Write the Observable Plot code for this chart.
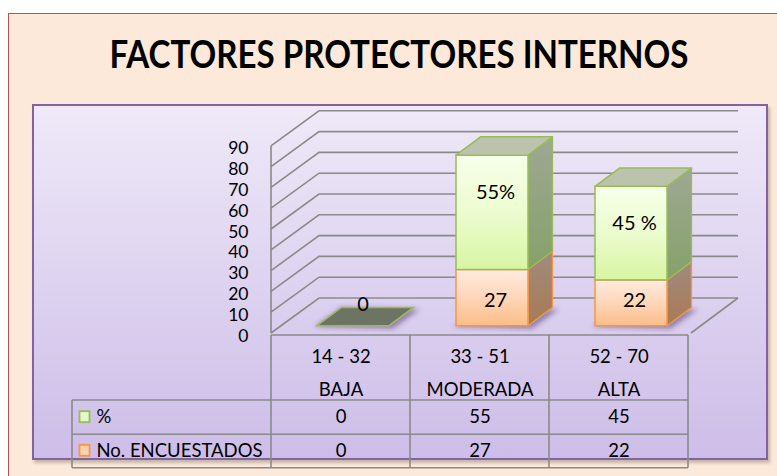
<!DOCTYPE html>
<html>
<head>
<meta charset="utf-8">
<script src="https://cdn.jsdelivr.net/npm/d3@7"></script>
<script src="https://cdn.jsdelivr.net/npm/@observablehq/plot@0.6"></script>
<style>
  html, body { margin: 0; padding: 0; background: #fff; }
  #wrap { position: relative; width: 777px; height: 476px; overflow: hidden; background: #fff; }
  #outer { position: absolute; left: 8px; top: 13px; width: 820px; height: 520px;
           background: #fde9d9; border: 1.5px solid #c0504d; }
  #inner { position: absolute; left: 32px; top: 103.5px; width: 732px; height: 352.5px;
           background: linear-gradient(#efe9f8, #cdbde8); border: 2px solid #8064a2;
           box-shadow: 2px 3px 3px rgba(0,0,0,0.22); }
  #chart { position: absolute; left: 0; top: 0; }
</style>
</head>
<body>
<div id="wrap">
  <div id="outer"></div>
  <div id="inner"></div>
  <div id="chart"></div>
</div>
<script>
// ---- data ----
const title = "FACTORES PROTECTORES INTERNOS";
const categories = ["14 - 32", "33 - 51", "52 - 70"];
const levels = ["BAJA", "MODERADA", "ALTA"];
const encuestados = [0, 27, 22];          // No. ENCUESTADOS
const porcentaje = [0, 55, 45];           // %
const pctLabels = ["0", "55%", "45 %"];
const seriesNames = ["%", "No. ENCUESTADOS"];
const yTicks = [0, 10, 20, 30, 40, 50, 60, 70, 80, 90];

const rows = categories.map((c, i) => ({
  cat: c, level: levels[i], n: encuestados[i], p: porcentaje[i],
  total: encuestados[i] + porcentaje[i], pctLabel: pctLabels[i]
}));

// ---- styling constants ----
const FONT = "Lato, 'Open Sans', sans-serif";
const gridColor = "#8a8a8a";
const tableColor = "#8a8a8a";
const wallDX = 48, wallDY = -35;      // depth of the back wall
const barOffX = 12.5, barOffY = -7.3; // bar front plane offset
const barDX = 24.5, barDY = -18.3;    // bar depth
const barW = 72;
const tableFont = 18.5;

function renderMark(draw) {
  return function (index, scales) {
    let s = scales;
    if (!s || typeof s.x !== "function") s = index;
    const g = d3.create("svg:g");
    draw(g, s);
    return g.node();
  };
}
function bandInfo(xs) {
  return xs.bandwidth ? xs.bandwidth() : (xs(categories[1]) - xs(categories[0]));
}
const poly = pts => pts.map(p => p.join(",")).join(" ");

// gradients
const defsMark = renderMark((g) => {
  const defs = g.append("defs");
  const lg = (id, stops) => {
    const l = defs.append("linearGradient").attr("id", id)
      .attr("x1", 0).attr("y1", 0).attr("x2", 0).attr("y2", 1);
    stops.forEach(([o, c]) => l.append("stop").attr("offset", o).attr("stop-color", c));
  };
  lg("gFront", [[0, "#f7ffea"], [0.5, "#ecfccf"], [1, "#d7f5a2"]]);
  lg("gSide", [[0, "#9ea893"], [1, "#86a169"]]);
  lg("oFront", [[0, "#ffebe0"], [0.5, "#fed6b8"], [1, "#fbbd89"]]);
  lg("oSide", [[0, "#a08b80"], [1, "#a97a52"]]);
  const f = defs.append("filter").attr("id", "blur").attr("x", "-50%").attr("y", "-50%")
    .attr("width", "200%").attr("height", "200%");
  f.append("feGaussianBlur").attr("stdDeviation", 2.5);
});

// 3D walls and floor
const wallsMark = renderMark((g, s) => {
  const xs = s.x, ys = s.y, bw = bandInfo(xs);
  const x0 = xs(categories[0]);
  const xEnd = xs(categories[categories.length - 1]) + bw;
  yTicks.forEach(t => {
    const y = ys(t);
    g.append("path")
      .attr("d", `M${x0},${y}L${x0 + wallDX},${y + wallDY}L${xEnd + wallDX + 2},${y + wallDY}`)
      .attr("fill", "none").attr("stroke", gridColor).attr("stroke-width", 1.6);
  });
  g.append("line").attr("x1", x0).attr("x2", x0)
    .attr("y1", ys(0)).attr("y2", ys(yTicks[yTicks.length - 1]))
    .attr("stroke", gridColor).attr("stroke-width", 1.6);
  g.append("line").attr("x1", xEnd + wallDX + 2).attr("y1", ys(0) + wallDY)
    .attr("x2", xEnd + 3).attr("y2", ys(0))
    .attr("stroke", gridColor).attr("stroke-width", 1.6);
});

// 3D stacked bars
const barsMark = renderMark((g, s) => {
  const xs = s.x, ys = s.y, bw = bandInfo(xs);
  rows.forEach(r => {
    const cx = xs(r.cat) + bw / 2 + barOffX;
    const x0 = cx - barW / 2, x1 = cx + barW / 2;
    const yb = ys(0) + barOffY;
    g.append("polygon")
      .attr("points", poly([[x0 - 2, yb + 1], [x0 + barDX, yb + barDY], [x1 + barDX + 6, yb + barDY + 2], [x1 + 4, yb + 3]]))
      .attr("fill", "rgba(60,40,90,0.45)").attr("filter", "url(#blur)");
    if (r.total === 0) {
      g.append("polygon")
        .attr("points", poly([[x0, yb], [x0 + barDX, yb + barDY], [x1 + barDX, yb + barDY], [x1, yb]]))
        .attr("fill", "#6e7464").attr("stroke", "#9bbb59").attr("stroke-width", 1.5);
      return;
    }
    const segs = [
      {v0: 0, v1: r.n, front: "url(#oFront)", side: "url(#oSide)", stroke: "#f79646"},
      {v0: r.n, v1: r.total, front: "url(#gFront)", side: "url(#gSide)", stroke: "#9bbb59"}
    ].filter(d => d.v1 > d.v0);
    segs.forEach((sg, k) => {
      const yT = ys(sg.v1) + barOffY, yB = ys(sg.v0) + barOffY;
      g.append("polygon")
        .attr("points", poly([[x1, yB], [x1 + barDX, yB + barDY], [x1 + barDX, yT + barDY], [x1, yT]]))
        .attr("fill", sg.side).attr("stroke", sg.stroke).attr("stroke-width", 1.3).attr("stroke-linejoin", "round");
      g.append("rect").attr("x", x0).attr("y", yT).attr("width", barW).attr("height", yB - yT)
        .attr("fill", sg.front).attr("stroke", sg.stroke).attr("stroke-width", 1.5);
      if (k === segs.length - 1) {
        g.append("polygon")
          .attr("points", poly([[x0, yT], [x0 + barDX, yT + barDY], [x1 + barDX, yT + barDY], [x1, yT]]))
          .attr("fill", "#bbc3ac").attr("stroke", sg.stroke).attr("stroke-width", 1.5).attr("stroke-linejoin", "round");
      }
    });
  });
});

// data table lines and legend keys
const tableTop = 335, headBottom = 400, rowMid = 434.3, tableBottom = 467.7, tableLeft = 72;
const rowY = [417, 451];
const tableMark = renderMark((g, s) => {
  const xs = s.x, bw = bandInfo(xs);
  const edges = categories.map(c => xs(c)).concat([xs(categories[categories.length - 1]) + bw]);
  const L = (x1, y1, x2, y2) => g.append("line").attr("x1", x1).attr("y1", y1).attr("x2", x2).attr("y2", y2)
    .attr("stroke", tableColor).attr("stroke-width", 1.6);
  const xr = edges[edges.length - 1];
  L(edges[0], tableTop, xr, tableTop);
  [headBottom, rowMid, tableBottom].forEach(y => L(tableLeft, y, xr, y));
  edges.forEach(x => L(x, tableTop, x, tableBottom));
  L(tableLeft, headBottom, tableLeft, tableBottom);
  const keyFill = ["#e3f9ca", "#fdd1ad"], keyStroke = ["#9bbb59", "#f79646"];
  [416.7, 450.3].forEach((cy, i) => {
    g.append("rect").attr("x", 79.5).attr("y", cy - 5.5).attr("width", 10).attr("height", 11)
      .attr("fill", keyFill[i]).attr("stroke", keyStroke[i]).attr("stroke-width", 1.8);
  });
});

const txt = {fill: "#000", lineAnchor: "middle"};
const chart = Plot.plot({
  width: 777, height: 476,
  marginTop: 0, marginRight: 0, marginBottom: 0, marginLeft: 0,
  style: {background: "transparent", fontFamily: FONT, color: "#000", overflow: "visible"},
  x: {type: "band", domain: categories, range: [269.5, 689], padding: 0, axis: null},
  y: {domain: [0, 90], range: [333, 145.8], axis: null},
  marks: [
    defsMark,
    wallsMark,
    barsMark,
    tableMark,
    // title
    Plot.text([title], {...txt, text: d => d, frameAnchor: "top", dx: 10, dy: 55.5,
      fontSize: 38, fontWeight: "bold",
      fontFamily: "'Liberation Sans Narrow', 'Arial Narrow', Lato, sans-serif"}),
    // y axis labels
    Plot.text(yTicks, {...txt, y: d => d, text: d => String(d), frameAnchor: "left", dx: 248, dy: 2.5,
      textAnchor: "end", fontSize: 17.5}),
    // bar labels: green series
    Plot.text(rows.filter(r => r.total > 0), {...txt, x: "cat", y: "total", text: "pctLabel",
      dx: barOffX + 3, dy: barOffY + 37, fontSize: 20}),
    // bar labels: orange series
    Plot.text(rows.filter(r => r.n > 0), {...txt, x: "cat", y: () => 0, text: d => String(d.n),
      dx: barOffX + 3, dy: barOffY - 26, fontSize: 20}),
    // label for empty category
    Plot.text(rows.filter(r => r.total === 0), {...txt, x: "cat", y: () => 0, text: d => String(d.total),
      dx: 22, dy: -28.5, fontSize: 20}),
    // table header
    Plot.text(rows, {...txt, x: "cat", text: "cat", frameAnchor: "top", dy: 357, fontSize: tableFont}),
    Plot.text(rows, {...txt, x: "cat", text: "level", frameAnchor: "top", dy: 390, fontSize: tableFont}),
    // table values
    Plot.text(rows, {...txt, x: "cat", text: d => String(d.p), frameAnchor: "top", dy: rowY[0], fontSize: tableFont}),
    Plot.text(rows, {...txt, x: "cat", text: d => String(d.n), frameAnchor: "top", dy: rowY[1], fontSize: tableFont}),
    // row labels
    Plot.text([seriesNames[0]], {...txt, text: d => d, frameAnchor: "top-left", dx: 96, dy: rowY[0],
      fontSize: tableFont, textAnchor: "start"}),
    Plot.text([seriesNames[1]], {...txt, text: d => d, frameAnchor: "top-left", dx: 96, dy: rowY[1],
      fontSize: tableFont, textAnchor: "start"})
  ]
});
document.getElementById("chart").appendChild(chart);
const svg = d3.select(chart.tagName.toLowerCase() === "svg" ? chart : chart.querySelector("svg"));
svg.selectAll("text").filter(function () { return this.textContent === title; })
  .attr("textLength", 579).attr("lengthAdjust", "spacingAndGlyphs");
</script>
</body>
</html>
